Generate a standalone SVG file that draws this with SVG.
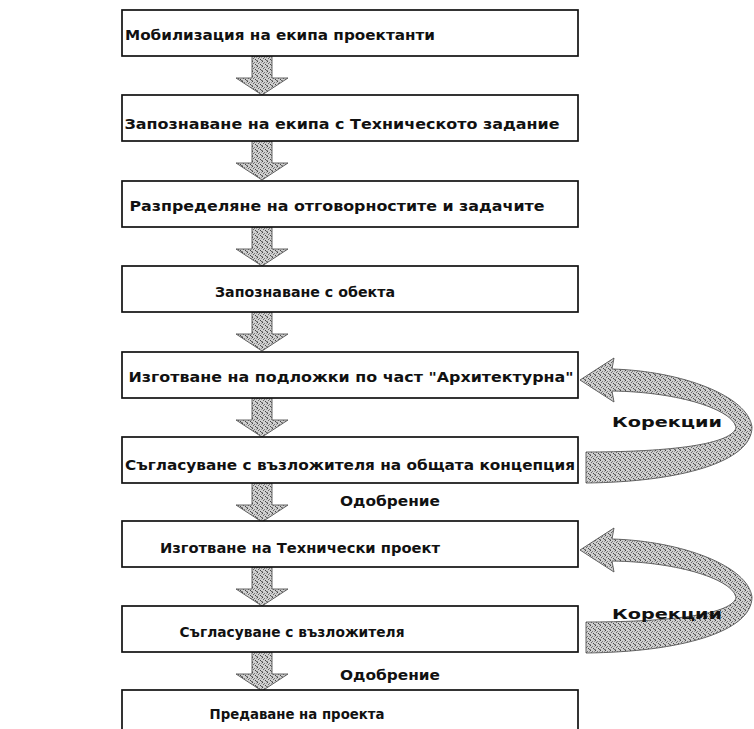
<svg xmlns="http://www.w3.org/2000/svg" width="754" height="729" viewBox="0 0 754 729">
<defs>
<style>
.box{fill:#fff;stroke:#111;stroke-width:1.7}
.t{font-family:"DejaVu Sans","Noto Sans",sans-serif;font-size:14px;font-weight:bold;fill:#111;text-anchor:middle}
.lbl{font-family:"DejaVu Sans","Noto Sans",sans-serif;font-size:14px;font-weight:bold;fill:#111}
.blk{fill:url(#dither);stroke:#555;stroke-width:0.9}
</style>
<pattern id="dither" width="5" height="5" patternUnits="userSpaceOnUse">
<rect width="5" height="5" fill="#cfcfcf"/>
<rect x="0" y="0" width="1" height="1" fill="#444"/>
<rect x="2" y="1" width="1" height="1" fill="#777"/>
<rect x="4" y="1" width="1" height="1" fill="#999"/>
<rect x="1" y="2" width="1" height="1" fill="#666"/>
<rect x="3" y="3" width="1" height="1" fill="#444"/>
<rect x="0" y="4" width="1" height="1" fill="#888"/>
<rect x="4" y="4" width="1" height="1" fill="#666"/>
</pattern>
<path id="down" d="M-10,0 H10 V22 H26 L0,39 L-26,22 H-10 Z"/>
<path id="uturn" d="M580,380 L614,358 L612,369 C682,371 748,396 752,427 C752,462 680,482 586,483 L586,452 C660,452 730,446 736,428 C734,410 680,392 612,391 L614,402 Z"/>
</defs>
<rect width="754" height="729" fill="#fff"/>

<g id="connectors">
<use href="#down" class="blk" x="262" y="56"/>
<use href="#down" class="blk" x="262" y="141"/>
<use href="#down" class="blk" x="262" y="227"/>
<use href="#down" class="blk" x="262" y="312"/>
<use href="#down" class="blk" x="262" y="398"/>
<use href="#down" class="blk" x="262" y="483"/>
<use href="#down" class="blk" x="262" y="567"/>
<use href="#down" class="blk" x="262" y="652"/>
<use href="#uturn" class="blk"/>
<use href="#uturn" class="blk" y="170"/>
<text class="lbl" x="340" y="506" textLength="100" lengthAdjust="spacingAndGlyphs">Одобрение</text>
<text class="lbl" x="340" y="680" textLength="100" lengthAdjust="spacingAndGlyphs">Одобрение</text>
<text class="lbl" x="612" y="427" textLength="110" lengthAdjust="spacingAndGlyphs">Корекции</text>
<text class="lbl" x="612" y="619" textLength="110" lengthAdjust="spacingAndGlyphs">Корекции</text>
</g>

<g id="n1"><rect class="box" x="122" y="10" width="456" height="46"/><text class="t" x="280" y="40" textLength="310" lengthAdjust="spacingAndGlyphs">Мобилизация на екипа проектанти</text></g>
<g id="n2"><rect class="box" x="122" y="95" width="456" height="46"/><text class="t" x="342" y="129" textLength="435" lengthAdjust="spacingAndGlyphs">Запознаване на екипа с Техническото задание</text></g>
<g id="n3"><rect class="box" x="122" y="181" width="456" height="46"/><text class="t" x="337" y="211" textLength="415" lengthAdjust="spacingAndGlyphs">Разпределяне на отговорностите и задачите</text></g>
<g id="n4"><rect class="box" x="122" y="266" width="456" height="46"/><text class="t" x="305" y="297" textLength="180" lengthAdjust="spacingAndGlyphs">Запознаване с обекта</text></g>
<g id="n5"><rect class="box" x="122" y="352" width="456" height="46"/><text class="t" x="351" y="382" textLength="445" lengthAdjust="spacingAndGlyphs">Изготване на подложки по част "Архитектурна"</text></g>
<g id="n6"><rect class="box" x="122" y="437" width="456" height="46"/><text class="t" x="350" y="470" textLength="450" lengthAdjust="spacingAndGlyphs">Съгласуване с възложителя на общата концепция</text></g>
<g id="n7"><rect class="box" x="122" y="521" width="456" height="46"/><text class="t" x="300" y="553" textLength="280" lengthAdjust="spacingAndGlyphs">Изготване на Технически проект</text></g>
<g id="n8"><rect class="box" x="122" y="606" width="456" height="46"/><text class="t" x="292" y="637" textLength="225" lengthAdjust="spacingAndGlyphs">Съгласуване с възложителя</text></g>
<g id="n9"><rect class="box" x="122" y="690" width="456" height="46"/><text class="t" x="297" y="719" textLength="175" lengthAdjust="spacingAndGlyphs">Предаване на проекта</text></g>
</svg>
